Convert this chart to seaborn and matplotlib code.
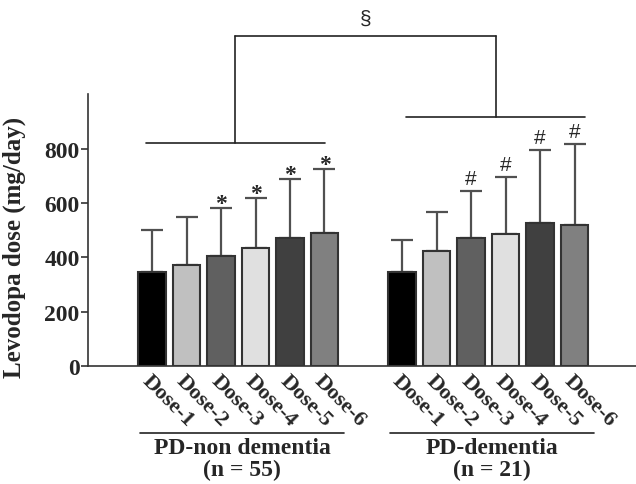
import numpy as np
import pandas as pd
import matplotlib
matplotlib.use('Agg')
import matplotlib.pyplot as plt
import seaborn as sns

# values (mean and upper SD per dose)
doses = ['Dose-1', 'Dose-2', 'Dose-3', 'Dose-4', 'Dose-5', 'Dose-6']
group_names = ['PD-non dementia', 'PD-dementia']
group_sizes = ['(n = 55)', '(n = 21)']
mean_non_dementia = [347, 373, 406, 435, 472, 491]
sd_non_dementia = [153, 175, 174, 182, 215, 232]
mean_dementia = [345, 425, 473, 487, 525, 520]
sd_dementia = [119, 140, 170, 209, 270, 298]
marks_non_dementia = ['', '', '*', '*', '*', '*']
marks_dementia = ['', '', '#', '#', '#', '#']

bar_colors = ['#000000', '#c0c0c0', '#606060', '#e0e0e0', '#404040', '#808080']
group_offsets = [0, 7.25]

rows = []
for g, (means, sds, marks) in enumerate([(mean_non_dementia, sd_non_dementia, marks_non_dementia),
                                         (mean_dementia, sd_dementia, marks_dementia)]):
    for i, d in enumerate(doses):
        rows.append({'pos': group_offsets[g] + i, 'dose': d, 'mean': means[i],
                     'sd': sds[i], 'mark': marks[i], 'group': g})
df = pd.DataFrame(rows)

sns.set_style('ticks')
plt.rcParams['font.family'] = ['Liberation Serif', 'DejaVu Serif']
plt.rcParams['font.weight'] = 'bold'

fig = plt.figure(figsize=(6.36, 4.85), dpi=100)
ax = fig.add_axes([0.1384, 0.2427, 0.8616, 0.5613])

sns.barplot(data=df, x='pos', y='mean', hue='dose', palette=bar_colors,
            native_scale=True, width=0.8, errorbar=None, edgecolor='#333333',
            linewidth=1.5, legend=False, ax=ax)

# upper SD only
ax.errorbar(df['pos'], df['mean'], yerr=[np.zeros(len(df)), df['sd']], fmt='none',
            ecolor='#505050', elinewidth=1.6, capsize=8, capthick=1.6, zorder=0)

for _, r in df.iterrows():
    if r['mark'] == '*':
        ax.annotate('*', (r['pos'], r['mean'] + r['sd']), xytext=(0, -4),
                    textcoords='offset points', ha='center', va='bottom',
                    fontsize=17, fontweight='bold', annotation_clip=False)
    elif r['mark'] == '#':
        ax.annotate('#', (r['pos'], r['mean'] + r['sd']), xytext=(0, 2),
                    textcoords='offset points', ha='center', va='bottom',
                    fontsize=15, fontweight='normal', family='Liberation Sans',
                    annotation_clip=False)

ax.set_xlim(-1.855, 14.03)
ax.set_ylim(0, 1000)
ax.set_yticks([0, 200, 400, 600, 800])
ax.tick_params(axis='y', labelsize=17, length=5, width=1.2, color='#333333', pad=1)
ax.set_xticks(df['pos'])
ax.set_xticklabels(df['dose'], rotation=-45, ha='left', rotation_mode='anchor', fontsize=16)
ax.tick_params(axis='x', length=0, pad=3)
ax.set_xlabel('')
ax.set_ylabel('Levodopa dose (mg/day)', fontsize=18, fontweight='bold')
ax.yaxis.set_label_coords(-0.113, 0.44)
sns.despine(ax=ax)
for s in ['left', 'bottom']:
    ax.spines[s].set_color('#333333')
    ax.spines[s].set_linewidth(1.2)

# comparison brackets
line_kw = dict(color='#222222', lw=1.2, clip_on=False)
centers = [group_offsets[0] + 2.42, group_offsets[1] + 2.71]
levels = [822, 916]
top = 1213
for c, lv in zip(centers, levels):
    ax.plot([c - 2.59, c + 2.59], [lv, lv], **line_kw)
    ax.plot([c, c], [lv, top], **line_kw)
ax.plot(centers, [top, top], **line_kw)
ax.text(np.mean(centers), top + 30, '§', ha='center', va='bottom', fontsize=15,
        fontweight='normal', family='Liberation Sans')

# group labels under the axis
for g in range(2):
    x0 = group_offsets[g] - 0.35
    x1 = group_offsets[g] + 5.57
    ax.plot([x0, x1], [-245, -245], **line_kw)
    xc = (x0 + x1) / 2
    ax.text(xc, -300, group_names[g], ha='center', va='center', fontsize=17)
    ax.text(xc, -380, group_sizes[g], ha='center', va='center', fontsize=17)

fig.savefig('out.png', dpi=100)
